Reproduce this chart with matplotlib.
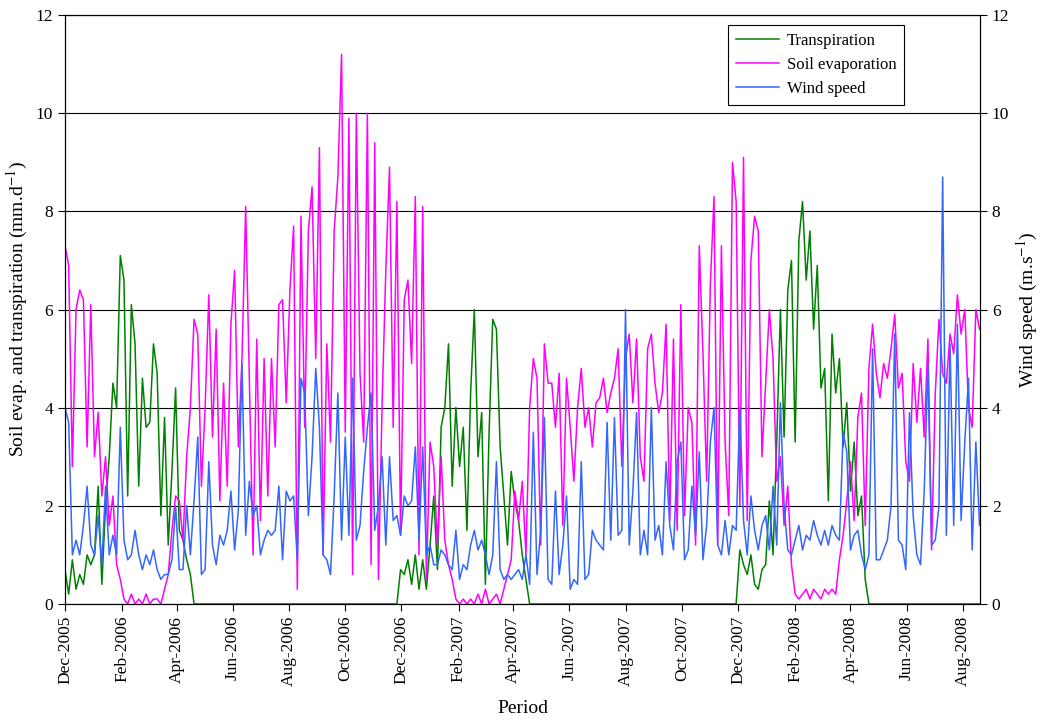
import pandas as pd
import matplotlib
matplotlib.use("Agg")
import matplotlib.pyplot as plt
import matplotlib.dates as mdates

# valeurs, un point tous les 4 jours depuis le 1er dec. 2005
START = "2005-12-01"
STEP = "4D"

soil_evap = [
    7.3, 6.9, 2.8, 6.0, 6.4, 6.2, 3.2, 6.1, 3.0, 3.9,
    2.2, 3.0, 1.6, 2.2, 0.8, 0.5, 0.1, 0.0, 0.2, 0.0,
    0.1, 0.0, 0.2, 0.0, 0.1, 0.1, 0.0, 0.3, 0.6, 1.5,
    2.2, 2.1, 1.3, 3.0, 4.0, 5.8, 5.5, 2.4, 4.0, 6.3,
    3.4, 5.6, 2.1, 4.5, 2.4, 5.7, 6.8, 3.2, 5.0, 8.1,
    4.6, 1.0, 5.4, 1.7, 5.0, 2.2, 5.0, 3.2, 6.1, 6.2,
    4.1, 6.4, 7.7, 0.3, 7.9, 3.6, 7.6, 8.5, 5.0, 9.3,
    1.0, 5.3, 3.3, 7.6, 8.7, 11.2, 3.5, 9.9, 0.6, 10.0,
    4.7, 3.3, 10.0, 0.8, 9.4, 0.5, 4.1, 6.8, 8.9, 3.6,
    8.2, 1.4, 6.2, 6.6, 4.9, 8.3, 1.0, 8.1, 0.5, 3.3,
    2.8, 1.2, 3.0, 1.3, 0.8, 0.5, 0.1, 0.0, 0.1, 0.0,
    0.1, 0.0, 0.2, 0.0, 0.3, 0.0, 0.1, 0.2, 0.0, 0.3,
    0.6, 0.9, 2.3, 1.7, 2.5, 1.0, 4.0, 5.0, 4.6, 1.2,
    5.3, 4.5, 4.5, 3.6, 4.7, 1.6, 4.6, 3.6, 2.5, 4.0,
    4.8, 3.6, 4.0, 3.2, 4.1, 4.2, 4.6, 3.9, 4.3, 4.6,
    5.2, 2.8, 5.0, 5.5, 4.1, 5.4, 3.0, 2.5, 5.2, 5.5,
    4.5, 3.9, 4.3, 5.7, 1.7, 5.4, 1.5, 6.1, 1.8, 4.0,
    3.7, 1.2, 7.3, 5.1, 2.5, 6.5, 8.3, 1.2, 7.3, 3.3,
    1.8, 9.0, 8.2, 2.0, 9.1, 1.7, 7.0, 7.9, 7.6, 3.0,
    4.5, 6.0, 5.0, 2.5, 3.0, 1.6, 2.4, 0.8, 0.2, 0.1,
    0.2, 0.3, 0.1, 0.3, 0.2, 0.1, 0.3, 0.2, 0.3, 0.2,
    0.9, 1.4, 2.1, 2.9, 1.7, 3.8, 4.3, 1.6, 4.8, 5.7,
    4.7, 4.2, 4.9, 4.6, 5.2, 5.9, 4.4, 4.7, 2.9, 2.5,
    4.9, 3.7, 4.8, 3.4, 5.4, 1.1, 4.3, 5.8, 4.7, 4.5,
    5.5, 5.1, 6.3, 5.5, 6.0, 4.0, 3.6, 6.0, 5.6,
]

transpiration = [
    0.7, 0.2, 0.9, 0.3, 0.6, 0.4, 1.0, 0.8, 1.0, 2.4,
    0.4, 2.0, 3.0, 4.5, 4.0, 7.1, 6.6, 2.2, 6.1, 5.3,
    2.4, 4.6, 3.6, 3.7, 5.3, 4.7, 1.8, 3.8, 1.2, 2.7,
    4.4, 1.5, 1.3, 0.9, 0.6, 0.0, 0.0, 0.0, 0.0, 0.0,
    0.0, 0.0, 0.0, 0.0, 0.0, 0.0, 0.0, 0.0, 0.0, 0.0,
    0.0, 0.0, 0.0, 0.0, 0.0, 0.0, 0.0, 0.0, 0.0, 0.0,
    0.0, 0.0, 0.0, 0.0, 0.0, 0.0, 0.0, 0.0, 0.0, 0.0,
    0.0, 0.0, 0.0, 0.0, 0.0, 0.0, 0.0, 0.0, 0.0, 0.0,
    0.0, 0.0, 0.0, 0.0, 0.0, 0.0, 0.0, 0.0, 0.0, 0.0,
    0.0, 0.7, 0.6, 0.9, 0.4, 1.0, 0.3, 0.9, 0.3, 1.2,
    2.2, 0.7, 3.6, 4.0, 5.3, 2.4, 4.0, 2.8, 3.6, 1.5,
    4.3, 6.0, 3.0, 3.9, 0.4, 3.5, 5.8, 5.6, 3.2, 2.2,
    1.2, 2.7, 2.1, 1.7, 1.0, 0.5, 0.0, 0.0, 0.0, 0.0,
    0.0, 0.0, 0.0, 0.0, 0.0, 0.0, 0.0, 0.0, 0.0, 0.0,
    0.0, 0.0, 0.0, 0.0, 0.0, 0.0, 0.0, 0.0, 0.0, 0.0,
    0.0, 0.0, 0.0, 0.0, 0.0, 0.0, 0.0, 0.0, 0.0, 0.0,
    0.0, 0.0, 0.0, 0.0, 0.0, 0.0, 0.0, 0.0, 0.0, 0.0,
    0.0, 0.0, 0.0, 0.0, 0.0, 0.0, 0.0, 0.0, 0.0, 0.0,
    0.0, 0.0, 0.0, 1.1, 0.8, 0.6, 1.0, 0.4, 0.3, 0.7,
    0.8, 2.1, 1.0, 3.3, 6.0, 3.4, 6.4, 7.0, 3.3, 7.4,
    8.2, 6.6, 7.6, 5.6, 6.9, 4.4, 4.8, 2.1, 5.5, 4.3,
    5.0, 3.2, 4.1, 2.3, 3.3, 1.8, 2.2, 0.5, 0.0, 0.0,
    0.0, 0.0, 0.0, 0.0, 0.0, 0.0, 0.0, 0.0, 0.0, 0.0,
    0.0, 0.0, 0.0, 0.0, 0.0, 0.0, 0.0, 0.0, 0.0, 0.0,
    0.0, 0.0, 0.0, 0.0, 0.0, 0.0, 0.0, 0.0, 0.0,
]

wind_speed = [
    4.0, 3.7, 1.0, 1.3, 1.0, 1.6, 2.4, 1.2, 1.0, 1.8,
    0.8, 2.4, 1.0, 1.4, 1.0, 3.6, 1.3, 0.9, 1.0, 1.5,
    1.0, 0.7, 1.0, 0.8, 1.1, 0.7, 0.5, 0.6, 0.6, 0.9,
    2.0, 0.7, 0.7, 2.0, 1.0, 2.1, 3.4, 0.6, 0.7, 2.9,
    1.2, 0.8, 1.4, 1.2, 1.5, 2.3, 1.1, 1.9, 4.9, 1.4,
    2.5, 1.8, 2.0, 1.0, 1.3, 1.5, 1.4, 1.5, 2.4, 0.9,
    2.3, 2.1, 2.2, 0.9, 4.6, 4.3, 1.8, 3.0, 4.8, 3.6,
    1.0, 0.9, 0.6, 2.2, 4.3, 1.3, 3.4, 1.4, 4.6, 1.3,
    1.6, 2.7, 3.6, 4.3, 1.5, 2.0, 3.0, 1.2, 3.0, 1.7,
    1.8, 1.4, 2.2, 2.0, 2.1, 3.2, 1.3, 3.2, 1.0, 1.2,
    0.8, 0.8, 1.1, 1.0, 0.8, 0.7, 1.5, 0.5, 0.8, 0.7,
    1.2, 1.5, 1.1, 1.3, 1.0, 0.6, 1.0, 2.9, 0.7, 0.5,
    0.6, 0.5, 0.6, 0.7, 0.5, 1.0, 0.4, 3.5, 0.6, 1.5,
    3.8, 0.5, 0.4, 2.3, 0.6, 1.2, 2.2, 0.3, 0.5, 0.4,
    2.9, 0.5, 0.6, 1.5, 1.3, 1.2, 1.1, 3.7, 1.3, 3.8,
    1.4, 1.5, 6.0, 1.2, 2.3, 3.9, 1.0, 1.5, 1.0, 4.0,
    1.3, 1.6, 1.0, 2.9, 1.6, 1.1, 2.9, 3.3, 0.9, 1.1,
    2.4, 1.4, 3.1, 0.9, 1.6, 3.3, 4.0, 1.2, 1.0, 1.7,
    1.0, 1.6, 1.5, 4.0, 1.7, 1.0, 2.2, 1.5, 1.1, 1.6,
    1.8, 1.1, 2.4, 1.2, 4.1, 2.0, 1.1, 1.0, 1.3, 1.6,
    1.1, 1.4, 1.3, 1.7, 1.4, 1.2, 1.5, 1.2, 1.6, 1.4,
    1.3, 3.5, 3.1, 1.1, 1.4, 1.5, 1.0, 0.7, 1.0, 5.2,
    0.9, 0.9, 1.1, 1.3, 2.0, 5.5, 1.3, 1.2, 0.7, 3.9,
    1.8, 1.0, 0.8, 2.3, 4.9, 1.2, 1.3, 2.0, 8.7, 1.4,
    5.3, 1.6, 5.7, 1.7, 3.3, 4.6, 1.1, 3.3, 1.6,
]

plt.rcParams["font.family"] = ["Liberation Serif", "DejaVu Serif"]
plt.rcParams["mathtext.fontset"] = "stix"

fig = plt.figure(figsize=(10.43, 7.19), dpi=100)
ax = fig.add_axes([0.0623, 0.16, 0.8773, 0.819])
ax2 = ax.twinx()

d_evap = pd.date_range(START, periods=len(soil_evap), freq=STEP)
d_tr = pd.date_range(START, periods=len(transpiration), freq=STEP)
d_wind = pd.date_range(START, periods=len(wind_speed), freq=STEP)

l1, = ax.plot(d_tr, transpiration, color="#008000", lw=1.1, label="Transpiration")
l2, = ax.plot(d_evap, soil_evap, color="#FF00FF", lw=1.1, label="Soil evaporation")
l3, = ax2.plot(d_wind, wind_speed, color="#3366FF", lw=1.1, label="Wind speed")

start = pd.Timestamp(START)
ax.set_xlim(start, start + pd.Timedelta(days=992.5))
for a in (ax, ax2):
    a.set_ylim(0, 12)
    a.set_yticks(range(0, 13, 2))
    a.tick_params(direction="out", length=5, width=0.8, labelsize=12.5)
    for s in a.spines.values():
        s.set_linewidth(0.8)
        s.set_color("black")

ax.yaxis.grid(True, color="black", lw=0.8)
ax.set_axisbelow(True)

ax.xaxis.set_major_locator(mdates.MonthLocator(bymonth=[12, 2, 4, 6, 8, 10]))
ax.xaxis.set_major_formatter(mdates.DateFormatter("%b-%Y"))
plt.setp(ax.get_xticklabels(), rotation=90)

ax.set_xlabel("Period", fontsize=14, labelpad=10)
ax.set_ylabel("Soil evap. and transpiration (mm.d$^{-1}$)", fontsize=14)
ax2.set_ylabel("Wind speed (m.s$^{-1}$)", fontsize=14)

leg = ax2.legend(handles=[l1, l2, l3], loc="upper left",
                 bbox_to_anchor=(0.7246, 0.983), borderaxespad=0,
                 fontsize=12, frameon=True, fancybox=False, framealpha=1,
                 edgecolor="black", handlelength=2.6, handletextpad=0.5,
                 borderpad=0.45, labelspacing=0.5)
leg.get_frame().set_linewidth(0.8)

fig.savefig("out.png", dpi=100)
